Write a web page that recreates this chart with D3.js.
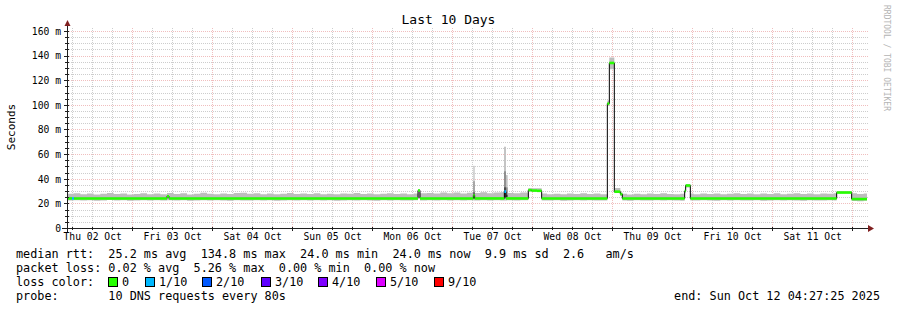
<!DOCTYPE html>
<html>
<head>
<meta charset="utf-8">
<script src="https://cdn.jsdelivr.net/npm/d3@7"></script>
<style>
  body { margin: 0; background: #fff; }
  svg { display: block; }
  text { font-family: "DejaVu Sans Mono", monospace; fill: #000; white-space: pre; }
</style>
</head>
<body>
<script>
var width = 897, height = 310;

// ---- data --------------------------------------------------------------
const title = "Last 10 Days";
const yLabel = "Seconds";
const watermark = "RRDTOOL / TOBI OETIKER";
const startTime = Date.UTC(2025, 9, 2, 4, 27, 25);   // 10 days before the end stamp
const spanHours = 240;
const yTicks = [0, 20, 40, 60, 80, 100, 120, 140, 160];
const yMax = 162.4;

// median rtt in ms, as steps: [hours from start, ms, lost pings of 10]
const medianSteps = [
  [0, 24.0, 0], [1.5, 24.0, 1], [2.1, 24.0, 0], [30.0, 25.8, 0], [30.6, 24.0, 0],
  [105.3, 30.5, 0], [105.9, 24.0, 0], [121.9, 26.5, 0], [122.3, 24.0, 0],
  [131.2, 29.5, 1], [131.7, 24.0, 0], [138.4, 30.8, 0], [139.4, 30.4, 0], [141.0, 30.2, 0],
  [142.4, 24.0, 0], [162.1, 101.0, 0], [162.7, 134.0, 0], [164.2, 29.5, 0], [166.0, 27.5, 0],
  [166.6, 24.0, 0], [185.3, 30.0, 0], [185.6, 34.5, 0], [187.0, 24.0, 0],
  [230.9, 28.8, 0], [235.4, 23.5, 0]
];

// smoke (spread of the 10 pings): [hours from start, lowest ms, highest ms]
const smokeSteps = [
  [0, 22.4, 27.8], [2, 22.6, 28.3], [4, 22.3, 27.4], [6, 22.5, 28.0], [8, 22.2, 27.2],
  [10, 22.4, 27.9], [12, 22.7, 28.5], [14, 22.3, 27.6], [16, 22.5, 28.1], [18, 22.2, 27.3],
  [20, 22.4, 27.7], [22, 22.6, 28.3], [24, 22.3, 27.5], [26, 22.5, 28.0], [28, 22.4, 27.4],
  [30, 22.6, 28.4], [32, 22.3, 27.7], [34, 22.5, 28.2], [36, 22.2, 27.3], [38, 22.4, 27.9],
  [40, 22.6, 28.6], [42, 22.3, 27.8], [44, 22.5, 27.4], [46, 22.4, 28.1], [48, 22.2, 27.6],
  [50, 22.5, 28.4], [52, 22.3, 28.7], [54, 22.4, 27.8], [56, 22.6, 28.2], [58, 22.3, 27.5],
  [60, 22.5, 28.0], [62, 22.2, 27.4], [64, 22.4, 27.9], [66, 22.6, 28.4], [68, 22.3, 27.6],
  [70, 22.5, 28.1], [72, 22.4, 27.7], [74, 22.6, 28.3], [76, 22.3, 27.4], [78, 22.5, 27.9],
  [80, 22.2, 27.5], [82, 22.4, 28.1], [84, 22.6, 27.8], [86, 22.3, 28.4], [88, 22.5, 27.6],
  [90, 22.4, 28.0], [92, 22.2, 27.4], [94, 22.5, 27.9], [96, 22.3, 28.2], [98, 22.6, 27.7],
  [100, 22.4, 28.1], [102, 22.3, 27.5], [104, 22.5, 28.0], [105.3, 24.5, 31.2], [105.9, 22.4, 28.2],
  [108, 22.6, 28.5], [110, 22.3, 28.0], [112, 22.5, 28.8], [114, 22.4, 28.3], [116, 22.6, 28.9],
  [118, 22.3, 28.1], [120, 22.5, 28.7], [122, 22.4, 28.4], [124, 22.6, 29.0], [126, 22.3, 28.2],
  [128, 22.5, 28.8], [130, 22.4, 29.1], [132, 22.6, 28.5], [134, 22.3, 28.3], [136, 22.5, 28.9],
  [138.4, 29.6, 32.2], [142.4, 22.4, 28.0], [144, 22.3, 27.4], [146, 22.5, 27.9], [148, 22.2, 27.5],
  [150, 22.4, 28.1], [152, 22.6, 27.7], [154, 22.3, 28.2], [156, 22.5, 27.6], [158, 22.4, 28.0],
  [160, 22.3, 27.4], [162.1, 99.0, 103.5], [162.7, 129.0, 138.5], [164.2, 28.5, 32.5], [166.0, 26.0, 29.0],
  [166.6, 22.4, 27.8], [168, 22.2, 27.3], [170, 22.5, 27.9], [172, 22.3, 27.5], [174, 22.4, 28.0],
  [176, 22.6, 27.6], [178, 22.3, 28.2], [180, 22.5, 27.7], [182, 22.4, 27.4], [184, 22.2, 27.9],
  [185.3, 28.5, 31.0], [185.6, 32.8, 35.8], [187.0, 22.4, 28.0], [188, 22.3, 27.5], [190, 22.5, 28.1],
  [192, 22.4, 27.6], [194, 22.2, 28.0], [196, 22.5, 27.4], [198, 22.3, 27.9], [200, 22.6, 28.3],
  [202, 22.4, 27.7], [204, 22.3, 28.1], [206, 22.5, 27.5], [208, 22.2, 28.0], [210, 22.4, 27.6],
  [212, 22.6, 28.2], [214, 22.3, 27.4], [216, 22.5, 27.9], [218, 22.4, 28.3], [220, 22.2, 27.7],
  [222, 22.5, 28.0], [224, 22.3, 27.5], [226, 22.4, 28.1], [228, 22.6, 27.8], [230, 22.3, 28.2],
  [230.9, 28.3, 29.8], [235.4, 22.0, 28.2], [237, 21.8, 27.7], [239, 22.1, 28.0]
];

// short bursts of slow pings: [from h, to h, low ms, dark top, mid top, high ms]
const spikes = [
  [121.9, 122.3, 25, 29, 38, 50.5],
  [131.1, 131.7, 25, 33, 46, 66],
  [131.7, 132.2, 25, 27, 33, 43]
];

// legend
const lossLevels = ["0", "1/10", "2/10", "3/10", "4/10", "5/10", "9/10"];
const lossColors = ["#26ff00", "#00b8ff", "#0059ff", "#5e00ff", "#7e00ff", "#dd00ff", "#ff0000"];
const rttLine = "median rtt:  25.2 ms avg  134.8 ms max  24.0 ms min  24.0 ms now  9.9 ms sd  2.6   am/s";
const lossLine = "packet loss: 0.02 % avg  5.26 % max  0.00 % min  0.00 % now";
const colorLabel = "loss color:";
const probeLine = "probe:       10 DNS requests every 80s";
const endText = "end: Sun Oct 12 04:27:25 2025";

// ---- layout -------------------------------------------------------------
const plot = { left: 67, right: 867, top: 28, bottom: 228 };
const hour = h => new Date(startTime + h * 3600e3);
const lossColor = n => lossColors[n === 0 ? 0 : Math.max(0, lossLevels.indexOf(n + "/10"))];

const x = d3.scaleUtc().domain([hour(0), hour(spanHours)]).range([plot.left, plot.right]);
const y = d3.scaleLinear().domain([0, yMax]).range([plot.bottom, plot.top]);

const svg = d3.select('body').append('svg')
    .attr('width', width)
    .attr('height', height);

svg.append('rect').attr('width', width).attr('height', height).attr('fill', '#fff');

// title + side labels
svg.append('text').attr('x', 448.5).attr('y', 24).attr('text-anchor', 'middle')
    .style('font-size', '13px').text(title);
svg.append('text').attr('transform', 'translate(15,127) rotate(-90)').attr('text-anchor', 'middle')
    .style('font-size', '11px').text(yLabel);
svg.append('text').attr('transform', 'translate(884,5) rotate(90)')
    .style('font-size', '8px').style('fill', '#b4b4b4').text(watermark);

// grid first, data drawn over it
const gGrid = svg.append('g').attr('shape-rendering', 'crispEdges');
const minorY = d3.range(5, 161, 5).filter(v => v % 20 !== 0);
const majorY = yTicks.filter(v => v > 0);
const minorX = d3.utcHour.every(6).range(hour(0), hour(spanHours)).filter(d => d.getUTCHours() !== 0);
const majorX = d3.utcDay.range(hour(0), hour(spanHours));

function hLines(vals, col) {
  gGrid.selectAll(null).data(vals).join('line')
      .attr('x1', plot.left).attr('x2', plot.right + 2)
      .attr('y1', d => Math.round(y(d)) + 0.5).attr('y2', d => Math.round(y(d)) + 0.5)
      .attr('stroke', col).attr('stroke-dasharray', '1,1');
}
function vLines(vals, col) {
  gGrid.selectAll(null).data(vals).join('line')
      .attr('y1', plot.top).attr('y2', plot.bottom)
      .attr('x1', d => Math.round(x(d)) + 0.5).attr('x2', d => Math.round(x(d)) + 0.5)
      .attr('stroke', col).attr('stroke-dasharray', '1,1');
}
hLines(minorY, '#cdcdcd');
vLines(minorX, '#cdcdcd');
hLines(majorY, '#f0bebe');
vLines(majorX, '#f0bebe');

// smoke
const stepPts = rows => rows.concat([[spanHours].concat(rows[rows.length - 1].slice(1))]);

svg.append('path')
    .datum(stepPts(smokeSteps))
    .attr('fill', '#bdbdbd')
    .attr('d', d3.area().curve(d3.curveStepAfter)
        .x(d => x(hour(d[0])))
        .y0(d => y(d[1]))
        .y1(d => y(d[2])));

// spikes in three shades, light outermost
[[5, '#c4c4c4'], [4, '#8f8f8f'], [3, '#4a4a4a']].forEach(([k, col]) => {
  svg.append('g').selectAll('rect').data(spikes).join('rect')
      .attr('x', d => x(hour(d[0])))
      .attr('width', d => x(hour(d[1])) - x(hour(d[0])))
      .attr('y', d => y(d[k]))
      .attr('height', d => y(d[2]) - y(d[k]))
      .attr('fill', col);
});

// median: thin black step line, then coloured 'loss' segments
const medPts = stepPts(medianSteps);
svg.append('path')
    .datum(medPts)
    .attr('fill', 'none').attr('stroke', '#000').attr('stroke-width', 1)
    .attr('d', d3.line().curve(d3.curveStepAfter).x(d => x(hour(d[0]))).y(d => y(d[1])));

svg.append('g').selectAll('line').data(d3.pairs(medPts)).join('line')
    .attr('x1', d => x(hour(d[0][0]))).attr('x2', d => x(hour(d[1][0])))
    .attr('y1', d => y(d[0][1])).attr('y2', d => y(d[0][1]))
    .attr('stroke', d => lossColor(d[0][2])).attr('stroke-width', 2.6);

// axes
const gAxis = svg.append('g').attr('shape-rendering', 'crispEdges');
gAxis.append('line').attr('x1', 62).attr('x2', 870).attr('y1', 228.5).attr('y2', 228.5).attr('stroke', '#1f1f1f');
gAxis.append('line').attr('x1', 67.5).attr('x2', 67.5).attr('y1', 232).attr('y2', 24).attr('stroke', '#1f1f1f');
// little ticks on the axes
gAxis.selectAll(null).data(minorY.concat(majorY)).join('line')
    .attr('x1', d => majorY.includes(d) ? 64 : 65).attr('x2', 69)
    .attr('y1', d => Math.round(y(d)) + 0.5).attr('y2', d => Math.round(y(d)) + 0.5)
    .attr('stroke', '#1f1f1f');
gAxis.selectAll(null).data(minorX.concat(majorX)).join('line')
    .attr('y1', 227).attr('y2', d => d.getUTCHours() === 0 ? 231 : 230)
    .attr('x1', d => Math.round(x(d)) + 0.5).attr('x2', d => Math.round(x(d)) + 0.5)
    .attr('stroke', '#1f1f1f');
// arrows
svg.append('path').attr('d', 'M64.5,26 L67.5,20 L70.5,26 Z').attr('fill', '#802020');
svg.append('path').attr('d', 'M868,225 L874,228.5 L868,232 Z').attr('fill', '#802020');

// axis labels through d3 axes
const yAxis = d3.axisLeft(y).tickValues(yTicks).tickSize(0).tickPadding(0)
    .tickFormat(d => d === 0 ? "0" : d + " m");
svg.append('g').attr('transform', 'translate(61,0)').call(yAxis)
    .call(g => g.select('.domain').remove())
    .call(g => g.selectAll('text').attr('dy', '0.34em').style('font-size', '9.7px')
        .style('font-family', '"DejaVu Sans Mono", monospace').attr('fill', '#000'));

const noons = d3.utcDay.range(d3.utcDay.floor(hour(0)), hour(spanHours))
    .map(d => d3.utcHour.offset(d, 12))
    .filter(d => d <= hour(spanHours));
const xAxis = d3.axisBottom(x).tickValues(noons).tickSize(0).tickPadding(0)
    .tickFormat(d3.utcFormat("%a %d %b"));
svg.append('g').attr('transform', 'translate(0,233)').call(xAxis)
    .call(g => g.select('.domain').remove())
    .call(g => g.selectAll('text').attr('dy', '0.72em').style('font-size', '9.7px')
        .style('font-family', '"DejaVu Sans Mono", monospace').attr('fill', '#000'));

// legend
const gLeg = svg.append('g').style('font-size', '11.8px');
const rows = [258, 272, 286, 300];
gLeg.append('text').attr('x', 16).attr('y', rows[0]).text(rttLine);
gLeg.append('text').attr('x', 16).attr('y', rows[1]).text(lossLine);
gLeg.append('text').attr('x', 16).attr('y', rows[2]).text(colorLabel);
const boxX = [108.5, 145.5, 202.5, 261.5, 318.5, 376.5, 434.5];
gLeg.selectAll(null).data(lossLevels).join('rect')
    .attr('x', (d, i) => boxX[i]).attr('y', rows[2] - 8.5)
    .attr('width', 9).attr('height', 9)
    .attr('fill', (d, i) => lossColors[i]).attr('stroke', '#000').attr('stroke-width', 1);
gLeg.selectAll(null).data(lossLevels).join('text')
    .attr('x', (d, i) => boxX[i] + 13.5).attr('y', rows[2]).text(d => d);
gLeg.append('text').attr('x', 16).attr('y', rows[3]).text(probeLine);
gLeg.append('text').attr('x', 880).attr('y', rows[3]).attr('text-anchor', 'end').text(endText);
</script>
</body>
</html>
